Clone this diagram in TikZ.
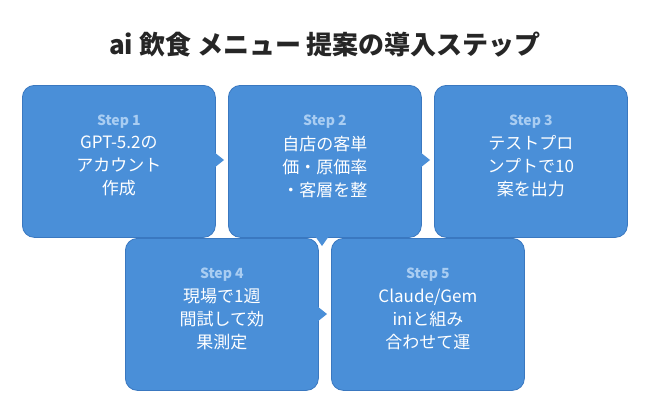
\documentclass[tikz,border=0pt]{standalone}
\usepackage{fontspec}
\setmainfont{Noto Sans CJK JP}
\definecolor{stepfill}{HTML}{4A8FD8}
\definecolor{stepline}{HTML}{3A78C0}
\definecolor{steplabel}{HTML}{A9CDF2}
\tikzset{
  stepbox/.style={draw=stepline, fill=stepfill, rounded corners=12pt, line width=0.8pt,
    minimum width=193pt, minimum height=152pt, anchor=north west},
  tip/.style={fill=stepfill},
  steptxt/.style={text=white, align=center, font=\fontsize{17}{23}\selectfont, text width=130pt},
}
\begin{document}
\begin{tikzpicture}[x=1pt,y=-1pt]
\useasboundingbox[fill=white] (0,0) rectangle (650,415);
\node[font=\bfseries\fontsize{26}{30}\selectfont, text=black!85] (title) at (325,45) {ai 飲食 メニュー 提案の導入ステップ};
% upper row
\node[stepbox] (s1) at (22,85) {};
\node[stepbox] (s2) at (228,85) {};
\node[stepbox] (s3) at (434,85) {};
% lower row
\node[stepbox] (s4) at (125,238) {};
\node[stepbox] (s5) at (331,238) {};
% pointers
\fill[tip] (214,152) -- (224,160) -- (214,168) -- cycle;
\fill[tip] (420,152) -- (430,160) -- (420,168) -- cycle;
\fill[tip] (315,236) -- (322,246) -- (329,236) -- cycle;
\fill[tip] (317,306) -- (327,314) -- (317,322) -- cycle;
% texts
\foreach \n/\k/\t in {s1/1/{GPT-5.2の\\アカウント\\作成}, s2/2/{自店の客単\\価・原価率\\・客層を整}, s3/3/{テストプロ\\ンプトで10\\案を出力}, s4/4/{現場で1週\\間試して効\\果測定}, s5/5/{Claude/Gem\\iniと組み\\合わせて運}}{
  \node[text=steplabel, font=\bfseries\fontsize{14}{16}\selectfont] (\n-lab) at ([yshift=-37pt]\n.north) {Step \k};
  \node[steptxt, anchor=north] (\n-txt) at ([yshift=0pt]\n-lab.south) {\t};
}
\end{tikzpicture}
\end{document}
